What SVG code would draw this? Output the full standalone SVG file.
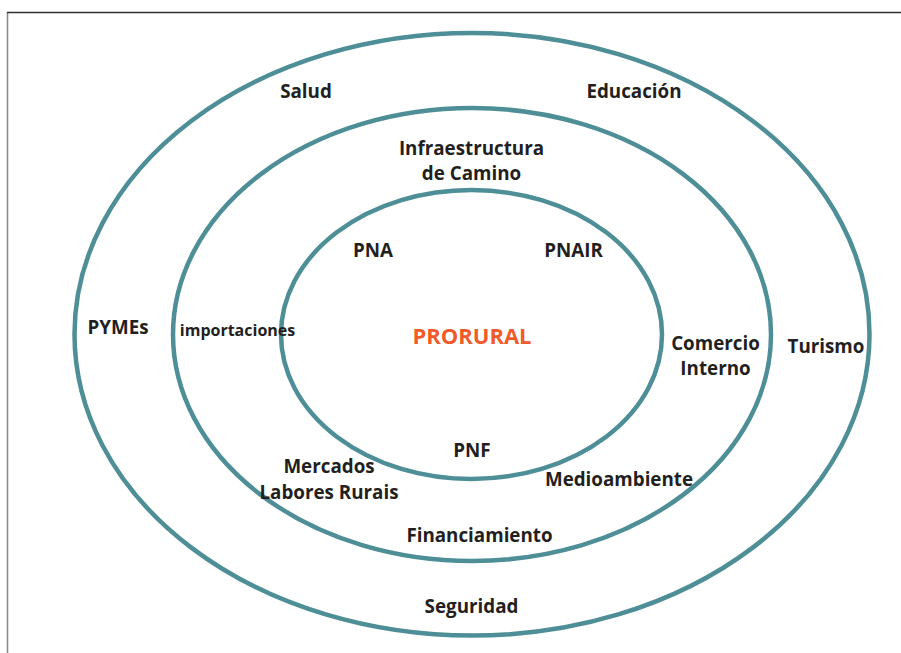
<svg xmlns="http://www.w3.org/2000/svg" width="901" height="653" viewBox="0 0 901 653">
<style>
.ring{fill:none;stroke:#4e8e97;stroke-width:4.5}
.t{font-family:"Open Sans","Liberation Sans",sans-serif;font-weight:700;font-size:18.8px;fill:#231f20;text-anchor:middle}
.s{font-size:16px}
.c{font-weight:700;font-size:22px;fill:#f15a29}
</style>
<rect width="901" height="653" fill="#ffffff"/>
<g id="frame">
<line x1="7.5" y1="12" x2="7.5" y2="653" stroke="#8a8a8a" stroke-width="1.6"/>
<line x1="7" y1="12.5" x2="901" y2="12.5" stroke="#2e2e2e" stroke-width="1.6"/>
</g>
<g id="ring-outer"><ellipse class="ring" cx="472" cy="334.3" rx="397.5" ry="301.3"/></g>
<g id="ring-middle"><ellipse class="ring" cx="472" cy="334.5" rx="299" ry="226.5"/></g>
<g id="ring-inner"><ellipse class="ring" cx="471.5" cy="334.5" rx="190.5" ry="144.5"/></g>
<g id="salud"><text class="t" x="306" y="98">Salud</text></g>
<g id="educacion"><text class="t" x="634" y="98">Educación</text></g>
<g id="infraestructura"><text class="t" x="471.5" y="155">Infraestructura</text><text class="t" x="471.5" y="180">de Camino</text></g>
<g id="pna"><text class="t" x="373" y="257">PNA</text></g>
<g id="pnair"><text class="t" x="573.5" y="257">PNAIR</text></g>
<g id="pymes"><text class="t" x="118" y="334">PYMEs</text></g>
<g id="importaciones"><text class="t s" x="237.5" y="336">importaciones</text></g>
<g id="prorural"><text class="t c" x="472" y="344">PRORURAL</text></g>
<g id="comercio"><text class="t" x="715.5" y="350">Comercio</text><text class="t" x="715.5" y="375">Interno</text></g>
<g id="turismo"><text class="t" x="826" y="353">Turismo</text></g>
<g id="pnf"><text class="t" x="472" y="457">PNF</text></g>
<g id="mercados"><text class="t" x="329" y="473">Mercados</text><text class="t" x="329" y="499">Labores Rurais</text></g>
<g id="medioambiente"><text class="t" x="619" y="486">Medioambiente</text></g>
<g id="financiamiento"><text class="t" x="479.5" y="542">Financiamiento</text></g>
<g id="seguridad"><text class="t" x="471.5" y="613">Seguridad</text></g>
</svg>
